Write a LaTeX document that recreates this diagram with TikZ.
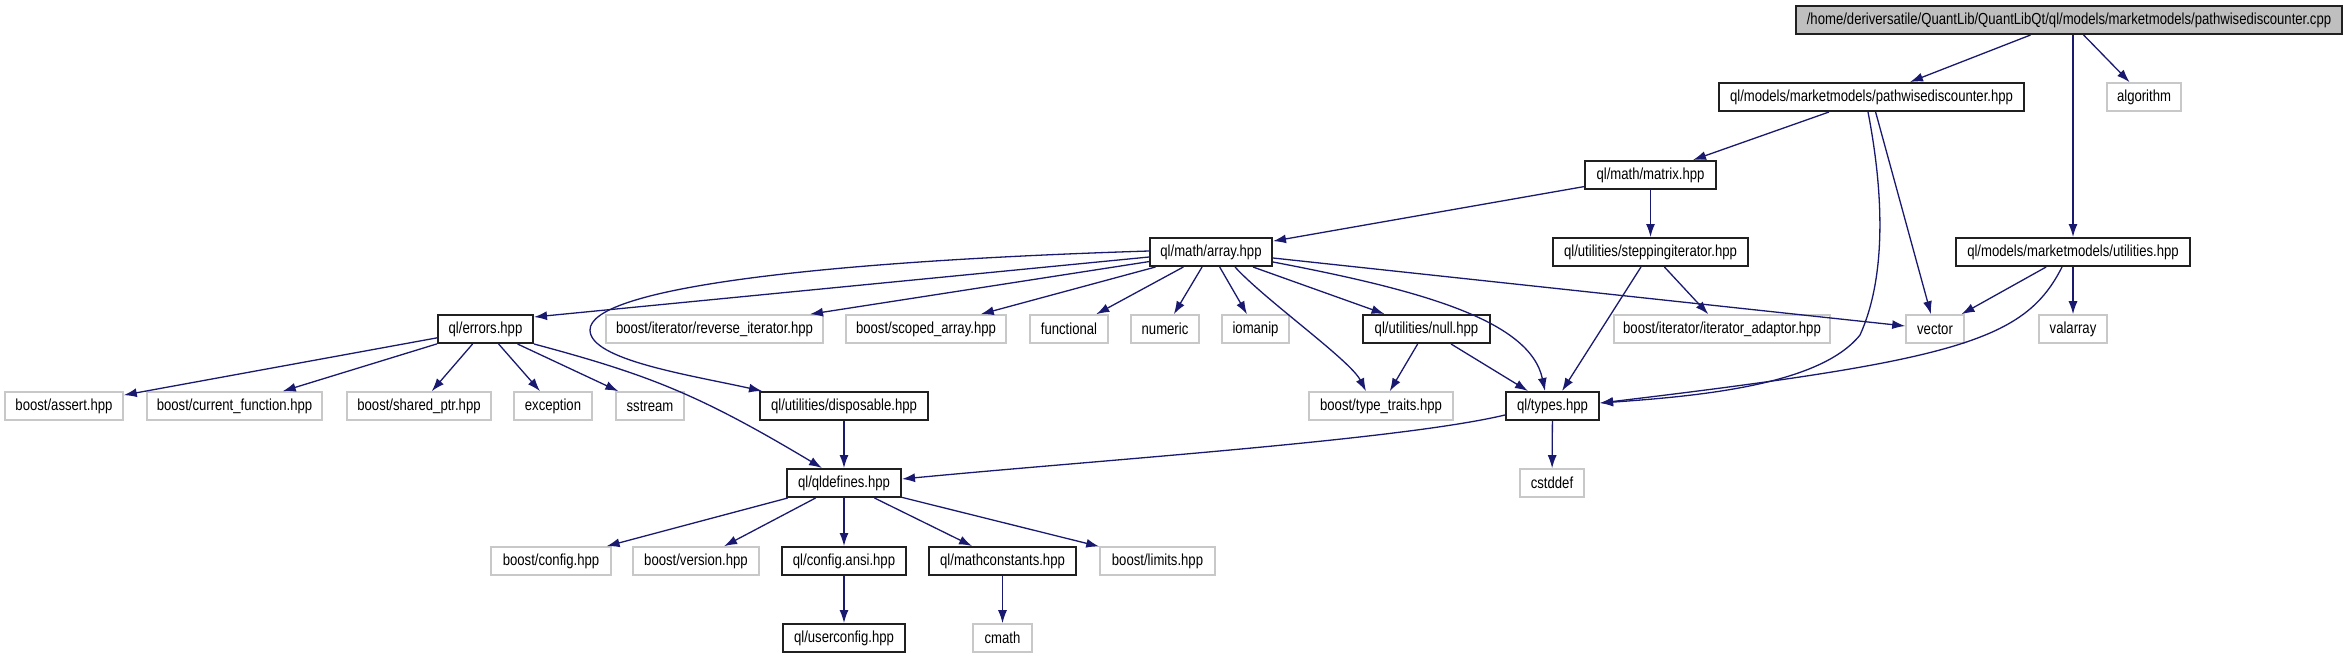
\documentclass[tikz,border=0pt]{standalone}
\usepackage{fontspec}
\setmainfont{Liberation Sans}[FakeStretch=0.82]
\usetikzlibrary{arrows.meta}
\definecolor{edgeblue}{HTML}{191970}
\definecolor{greyline}{HTML}{C8C8C8}
\definecolor{rootfill}{HTML}{BFBFBF}
\definecolor{docline}{HTML}{202020}
\tikzset{
  box/.style={rectangle, inner sep=0pt, minimum height=28pt, font=\fontsize{16}{18}\selectfont, text=black},
  doc/.style={box, draw=docline, line width=2pt},
  ext/.style={box, draw=greyline, line width=1.6pt},
  rootbox/.style={box, draw=docline, fill=rootfill, line width=2pt},
  e/.style={draw=edgeblue, line width=1.3pt, -{Latex[length=13pt,width=9pt]}}
}
\begin{document}
\begin{tikzpicture}[x=1pt,y=-1pt]
\useasboundingbox (0,0) rectangle (2347,659);
% row 0
\node[rootbox, minimum width=546] (root) at (2069,20) {/home/deriversatile/QuantLib/QuantLibQt/ql/models/marketmodels/pathwisediscounter.cpp};
% row 1
\node[doc, minimum width=305] (pwd) at (1871.5,97) {ql/models/marketmodels/pathwisediscounter.hpp};
\node[ext, minimum width=74] (algorithm) at (2144,97) {algorithm};
% row 2
\node[doc, minimum width=131] (matrix) at (1650.5,175) {ql/math/matrix.hpp};
% row 3
\node[doc, minimum width=122] (array) at (1211,252) {ql/math/array.hpp};
\node[doc, minimum width=195] (stepping) at (1650.5,252) {ql/utilities/steppingiterator.hpp};
\node[doc, minimum width=234] (mmutil) at (2073,252) {ql/models/marketmodels/utilities.hpp};
% row 4
\node[doc, minimum width=95] (errors) at (485.5,329) {ql/errors.hpp};
\node[ext, minimum width=217] (reviter) at (714.5,329) {boost/iterator/reverse\_iterator.hpp};
\node[ext, minimum width=160] (scoped) at (926,329) {boost/scoped\_array.hpp};
\node[ext, minimum width=78] (functional) at (1069,329) {functional};
\node[ext, minimum width=68] (numeric) at (1165,329) {numeric};
\node[ext, minimum width=67] (iomanip) at (1255.5,329) {iomanip};
\node[doc, minimum width=127] (null) at (1426.5,329) {ql/utilities/null.hpp};
\node[ext, minimum width=216] (iteradaptor) at (1722,329) {boost/iterator/iterator\_adaptor.hpp};
\node[ext, minimum width=58] (vector) at (1935,329) {vector};
\node[ext, minimum width=68] (valarray) at (2073,329) {valarray};
% row 5
\node[ext, minimum width=118] (assert) at (64,406) {boost/assert.hpp};
\node[ext, minimum width=175] (curfun) at (234.5,406) {boost/current\_function.hpp};
\node[ext, minimum width=144] (sharedptr) at (419,406) {boost/shared\_ptr.hpp};
\node[ext, minimum width=78] (exception) at (553,406) {exception};
\node[ext, minimum width=68] (sstream) at (650,406) {sstream};
\node[doc, minimum width=168] (disposable) at (844,406) {ql/utilities/disposable.hpp};
\node[ext, minimum width=144] (typetraits) at (1381,406) {boost/type\_traits.hpp};
\node[doc, minimum width=93] (types) at (1552.5,406) {ql/types.hpp};
% row 6
\node[doc, minimum width=114] (qldefines) at (844,483) {ql/qldefines.hpp};
\node[ext, minimum width=64] (cstddef) at (1552,483) {cstddef};
% row 7
\node[ext, minimum width=120] (bconfig) at (551,561) {boost/config.hpp};
\node[ext, minimum width=126] (bversion) at (696,561) {boost/version.hpp};
\node[doc, minimum width=124] (configansi) at (844,561) {ql/config.ansi.hpp};
\node[doc, minimum width=147] (mathconst) at (1002.5,561) {ql/mathconstants.hpp};
\node[ext, minimum width=115] (blimits) at (1157.5,561) {boost/limits.hpp};
% row 8
\node[doc, minimum width=122] (userconfig) at (844,638) {ql/userconfig.hpp};
\node[ext, minimum width=59] (cmath) at (1002.5,638) {cmath};

% edges
\draw[e] (root) -- (pwd);
\draw[e] (root) -- (algorithm);
\draw[e] (root.south -| mmutil.north) -- (mmutil.north);
\draw[e] (pwd) -- (matrix);
\draw[e] (pwd) -- (vector);
\draw[e] ([xshift=-3.5pt]pwd.south) .. controls (1885,200) and (1885,280) .. (1860,335) .. controls (1820,385) and (1700,396) .. ([yshift=3pt]types.east);
\draw[e] (matrix) -- (array);
\draw[e] (matrix) -- (stepping);
\draw[e] (mmutil) -- (vector);
\draw[e] (mmutil) -- (valarray);
\draw[e] ([xshift=-11pt]mmutil.south) .. controls (2025,340) and (1960,360) .. ([yshift=3pt]types.east);
\draw[e] (stepping) -- (iteradaptor);
\draw[e] (stepping) -- (types);
\draw[e] ([yshift=1pt]array.west) .. controls (800,262) and (590,290) .. (590,330) .. controls (590,360) and (690,375) .. ([xshift=3pt]disposable.north west);
\draw[e] ([yshift=-5pt]array.west) -- ([yshift=-3pt]errors.north east);
\draw[e] (array) -- (reviter);
\draw[e] (array) -- (scoped);
\draw[e] (array) -- (functional);
\draw[e] (array) -- (numeric);
\draw[e] (array) -- (iomanip);
\draw[e] (array) -- (null);
\draw[e] ([xshift=24pt]array.south) .. controls (1265,300) and (1350,360) .. ([xshift=-15pt]typetraits.north);
\draw[e] ([yshift=-10pt]array.east) .. controls (1420,290) and (1530,320) .. ([xshift=-7.5pt]types.north);
\draw[e] ([yshift=-6pt]array.east) -- ([yshift=3pt]vector.west);
\draw[e] (null) -- (typetraits);
\draw[e] (null) -- (types);
\draw[e] (errors) -- (assert);
\draw[e] (errors) -- (curfun);
\draw[e] (errors) -- (sharedptr);
\draw[e] (errors) -- (exception);
\draw[e] (errors) -- (sstream);
\draw[e] (errors.south east) .. controls (650,375) and (700,395) .. ([xshift=-22pt]qldefines.north);
\draw[e] (disposable) -- (qldefines);
\draw[e] ([yshift=-9pt]types.west) .. controls (1400,440) and (1100,460) .. ([yshift=4pt]qldefines.east);
\draw[e] (types) -- (cstddef);
\draw[e] (qldefines) -- (bconfig);
\draw[e] (qldefines) -- (bversion);
\draw[e] (qldefines) -- (configansi);
\draw[e] (qldefines) -- (mathconst);
\draw[e] (qldefines) -- (blimits);
\draw[e] (configansi) -- (userconfig);
\draw[e] (mathconst) -- (cmath);
\end{tikzpicture}
\end{document}
